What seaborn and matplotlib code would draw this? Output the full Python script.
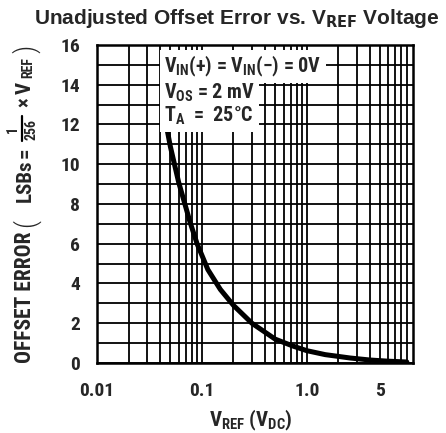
import matplotlib
matplotlib.use("Agg")
import matplotlib.pyplot as plt
import matplotlib.ticker as mticker
from matplotlib.lines import Line2D
import numpy as np
import pandas as pd
import seaborn as sns

# values
vref = [0.042, 0.05, 0.06, 0.077, 0.09, 0.114, 0.15, 0.2, 0.3, 0.5,
        0.74, 1.0, 1.5, 2.6, 4.0, 6.0, 9.0]
offset_lsb = [13.0, 10.9, 9.1, 7.1, 6.0, 4.7, 3.7, 2.9, 2.0, 1.2,
              0.85, 0.62, 0.42, 0.25, 0.15, 0.09, 0.05]
x_ticks = [0.01, 0.1, 1.0, 5]
x_tick_labels = ["0.01", "0.1", "1.0", "5"]
y_ticks = [0, 2, 4, 6, 8, 10, 12, 14, 16]

df = pd.DataFrame({"vref": vref, "err": offset_lsb})

sns.set_theme(style="white")
FONT = ["Roboto Condensed", "Liberation Sans Narrow", "DejaVu Sans"]
plt.rcParams["font.family"] = FONT
plt.rcParams["font.weight"] = "bold"
plt.rcParams["mathtext.fontset"] = "custom"
plt.rcParams["mathtext.rm"] = "Roboto Condensed:bold"
plt.rcParams["mathtext.bf"] = "Roboto Condensed:bold"
plt.rcParams["mathtext.it"] = "Roboto Condensed:bold"

W, H = 446, 433
fig = plt.figure(figsize=(W / 100, H / 100), dpi=100)
ax = fig.add_axes([0.2175, 0.1617, 0.7085, 0.7344])


def px(x, y):
    # pixel position (from top-left) -> figure fraction
    return x / W, 1 - y / H


sns.lineplot(data=df, x="vref", y="err", ax=ax, color="black", linewidth=3.6)

ax.set_xscale("log")
ax.set_xlim(0.01, 10.3)
ax.set_ylim(0, 16)

ax.set_xticks(x_ticks)
ax.set_xticklabels(x_tick_labels)
ax.xaxis.set_minor_locator(mticker.LogLocator(base=10, subs=np.arange(2, 10)))
ax.xaxis.set_minor_formatter(mticker.NullFormatter())
ax.set_yticks(y_ticks)
ax.yaxis.set_minor_locator(mticker.MultipleLocator(1))

ax.grid(True, which="both", color="black", linewidth=1.3)
ax.tick_params(which="both", length=0)
ax.tick_params(axis="x", labelsize=14, pad=14)
ax.tick_params(axis="y", labelsize=14, pad=12)
for lbl in ax.get_xticklabels() + ax.get_yticklabels():
    lbl.set_fontweight("bold")
for s in ax.spines.values():
    s.set_color("black")
    s.set_linewidth(1.8)

ax.set_xlabel("")
ax.set_ylabel("")
fig.text(*px(251, 420), r"V$_{\mathrm{REF}}$ (V$_{\mathrm{DC}}$)", fontsize=15,
         fontweight="bold", ha="center", va="center")

# rotated y label assembled from plain text pieces
rot = dict(rotation=90, ha="center", va="center", fontweight="bold")
fig.text(*px(25, 297), "OFFSET ERROR", fontsize=15.5, **rot)
fig.text(*px(26, 223), "(", fontsize=20, rotation=90, ha="center", va="center", fontweight="light")
fig.text(*px(25, 181), "LSBs", fontsize=15, **rot)
fig.text(*px(25, 153), "=", fontsize=15, **rot)
fig.text(*px(13, 129), "1", fontsize=10, **rot)
fig.add_artist(Line2D([22 / W, 22 / W], [1 - 116 / H, 1 - 141 / H], color="black",
                      linewidth=1.6, transform=fig.transFigure))
fig.text(*px(32, 129), "256", fontsize=10, **rot)
fig.text(*px(25, 102), "×", fontsize=15, **rot)
fig.text(*px(25, 88), "V", fontsize=15, **rot)
fig.text(*px(28, 68), "REF", fontsize=10, **rot)
fig.text(*px(26, 49), ")", fontsize=20, rotation=90, ha="center", va="center", fontweight="light")

fig.text(*px(237, 18), r"Unadjusted Offset Error vs. V$_{\mathsf{REF}}$ Voltage",
         ha="center", va="center", fontsize=15, fontweight="bold",
         family=["Liberation Sans", "DejaVu Sans"])

# condition notes, white boxes hide the grid behind them
ax.text(0.212, 0.933, r"V$_{\mathrm{IN}}$(+) = V$_{\mathrm{IN}}$(−) = 0V", transform=ax.transAxes,
        fontsize=14.5, ha="left", va="center",
        bbox=dict(facecolor="white", edgecolor="none", pad=3))
ax.text(0.212, 0.812, "V$_{\\mathrm{OS}}$ = 2 mV\nT$_{\\mathrm{A}}$  =  25°C", transform=ax.transAxes,
        fontsize=14.5, ha="left", va="center", linespacing=1.05,
        bbox=dict(facecolor="white", edgecolor="none", pad=3))

fig.savefig("out.png", dpi=100)
